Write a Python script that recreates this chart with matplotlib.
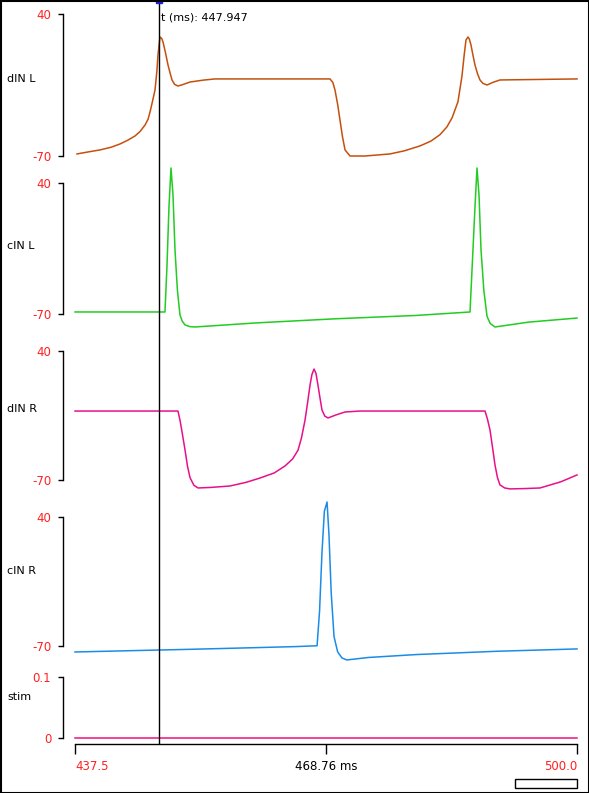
import numpy as np
import matplotlib
matplotlib.use("Agg")
import matplotlib.pyplot as plt
from matplotlib.patches import Rectangle

W, H = 589, 793
t_start, t_end = 437.5, 500.0
t_cursor = 447.947
t_mid = 468.76

# traces (time in ms, value in mV)
dinl_t = [437.75, 439.0, 440.61, 442.0, 443.1, 444.0, 444.97, 445.6, 446.22, 446.6, 446.84, 447.1,
          447.46, 447.7, 447.83, 448.0, 448.08, 448.3, 448.46, 448.8, 449.08, 449.35, 449.58, 449.9,
          450.32, 451.0, 451.82, 453.5, 454.93, 469.25, 469.6, 469.87, 470.2, 470.49, 470.8, 471.12,
          471.74, 473.61, 476.72, 478.5, 480.45, 481.8, 482.94, 483.8, 484.44, 485.18, 485.68, 485.95,
          486.18, 486.43, 486.6, 486.8, 487.05, 487.3, 487.6, 487.92, 488.3, 488.8, 489.5, 490.41, 500.0]
dinl_v = [-68.4, -67.0, -65.3, -63.2, -60.7, -58.0, -54.5, -51.0, -46.0, -41.5, -35.9, -29.0,
          -18.9, -4.0, 8.2, 18.0, 22.2, 21.0, 18.3, 9.0, 0.5, -6.0, -11.1, -14.5,
          -15.8, -14.5, -12.7, -11.2, -10.3, -10.3, -13.0, -18.9, -30.0, -42.1, -55.0, -65.3,
          -70.0, -70.0, -68.4, -66.0, -62.2, -58.5, -53.5, -47.5, -40.5, -28.0, -8.0, 8.0,
          19.9, 22.2, 20.5, 16.0, 8.0, 0.5, -6.0, -11.1, -13.8, -15.0, -13.0, -11.1, -10.3]

cinl_t = [437.5, 448.7, 448.95, 449.2, 449.45, 449.7, 449.95, 450.25, 450.57, 450.85, 451.2, 451.8,
          452.44, 460.0, 470.0, 480.0, 486.68, 486.95, 487.3, 487.55, 487.8, 488.05, 488.4, 488.8,
          489.2, 489.79, 494.0, 500.0]
cinl_v = [-68.3, -68.3, -30.0, 20.0, 52.6, 30.0, -16.2, -50.0, -70.8, -76.0, -79.2, -80.6,
          -80.9, -77.5, -74.0, -71.2, -68.3, -30.0, 20.0, 52.6, 30.0, -16.2, -50.0, -72.0,
          -78.0, -80.9, -76.8, -73.4]

dinr_t = [437.5, 450.32, 450.57, 450.9, 451.2, 451.5, 451.82, 452.3, 452.82, 454.5, 456.8, 458.8,
          460.54, 462.3, 463.65, 464.6, 465.27, 465.7, 466.14, 466.5, 466.76, 467.0, 467.26,
          467.5, 467.75, 468.0, 468.25, 468.6, 469.0, 470.0, 471.12, 472.98, 488.55, 488.85,
          489.17, 489.5, 489.79, 490.1, 490.41, 491.0, 491.66, 493.5, 495.4, 498.0, 500.0]
dinr_v = [-11.2, -11.2, -18.9, -32.0, -44.5, -58.0, -68.0, -74.5, -76.8, -76.3, -75.1, -72.0,
          -68.3, -64.0, -58.0, -52.0, -44.5, -34.0, -18.9, -2.0, 10.9, 20.0, 24.6,
          21.0, 10.9, 0.0, -10.3, -15.5, -17.1, -14.5, -12.0, -11.2, -11.2, -18.0,
          -27.4, -43.0, -57.2, -68.0, -74.2, -76.8, -77.6, -77.3, -76.8, -71.5, -65.7]

cinr_t = [437.5, 445.0, 452.0, 460.0, 465.0, 467.64, 467.95, 468.25, 468.55, 468.88, 469.12,
          469.4, 469.75, 470.2, 470.74, 471.36, 474.0, 480.0, 490.0, 500.0]
cinr_v = [-75.1, -73.9, -72.8, -71.4, -70.5, -69.8, -40.0, 10.0, 45.0, 52.8, 25.0,
          -25.0, -62.0, -75.0, -80.2, -81.9, -79.8, -77.3, -74.5, -72.5]

stim_t = [437.5, 500.0]
stim_v = [0.0, 0.0]

panels = [
    ("dIN L", dinl_t, dinl_v, "#c4500c", (-70, 40), ("-70", "40"), 14, 156, 0.54),
    ("cIN L", cinl_t, cinl_v, "#22cc22", (-70, 40), ("-70", "40"), 183, 314, 0.52),
    ("dIN R", dinr_t, dinr_v, "#e8108a", (-70, 40), ("-70", "40"), 351, 480, 0.55),
    ("cIN R", cinr_t, cinr_v, "#1a8ce8", (-70, 40), ("-70", "40"), 517, 646, 0.58),
    ("stim", stim_t, stim_v, "#f0107f", (0, 0.1), ("0", "0.1"), 677, 738, 0.67),
]

fig = plt.figure(figsize=(W / 100, H / 100), dpi=100)
x0, x1 = 75, 577

def px_rect(l, top, r, bot):
    return [l / W, 1 - bot / H, (r - l) / W, (bot - top) / H]

for name, t, v, col, lim, labs, top, bot, ly in panels:
    ax = fig.add_axes(px_rect(x0, top, x1, bot))
    ax.plot(t, v, color=col, lw=1.1, clip_on=False)
    ax.set_xlim(t_start, t_end)
    ax.set_ylim(*lim)
    for s in ("top", "right", "bottom"):
        ax.spines[s].set_visible(False)
    ax.spines["left"].set_position(("outward", 8.6))
    ax.spines["left"].set_linewidth(1.0)
    ax.set_xticks([])
    ax.set_yticks(lim)
    ax.set_yticklabels(labs, color="#ff2020", fontsize=8.5)
    ax.tick_params(axis="y", length=3.5, width=1.0, pad=5)
    ax.patch.set_alpha(0)
    ax.text(-68 / (x1 - x0), ly, name, transform=ax.transAxes, fontsize=8, va="center", ha="left")

# bottom time axis
axb = fig.add_axes(px_rect(x0, 744, x1, 746))
axb.set_xlim(t_start, t_end)
axb.set_yticks([])
for s in ("left", "right", "bottom"):
    axb.spines[s].set_visible(False)
axb.spines["top"].set_linewidth(1.0)
axb.xaxis.set_ticks_position("top")
axb.set_xticks([t_start, t_mid, t_end])
axb.tick_params(axis="x", direction="in", length=7, width=1.0, labeltop=False, labelbottom=False)
axb.patch.set_alpha(0)
for tv, lab, c, ha in [(t_start, "437.5", "#ff2020", "left"), (t_mid, "468.76 ms", "black", "center"),
                       (t_end, "500.0", "#ff2020", "right")]:
    axb.text(tv, -10, lab, transform=axb.get_xaxis_transform(), color=c, fontsize=8.5,
             ha=ha, va="center")

# cursor overlay across whole plot
axc = fig.add_axes(px_rect(x0, 0, x1, 745))
axc.set_xlim(t_start, t_end)
axc.set_ylim(0, 1)
axc.axis("off")
axc.axvline(t_cursor, color="black", lw=1.0)
axc.plot([t_cursor], [1.0], marker="s", color="#2020d0", ms=4, clip_on=False)
axc.text(t_cursor + 0.2, 1 - 17 / 745, "t (ms): %.3f" % t_cursor, fontsize=8, va="center")

# small empty box bottom right and outer frame
fig.patches.append(Rectangle((515 / W, 1 - 788 / H), 62 / W, 9 / H, transform=fig.transFigure,
                             fill=False, edgecolor="black", lw=1.0))
fig.patches.append(Rectangle((0.5 / W, 0.5 / H), 1 - 1 / W, 1 - 1 / H, transform=fig.transFigure,
                             fill=False, edgecolor="black", lw=1.5))

fig.savefig("out.png", dpi=100)
